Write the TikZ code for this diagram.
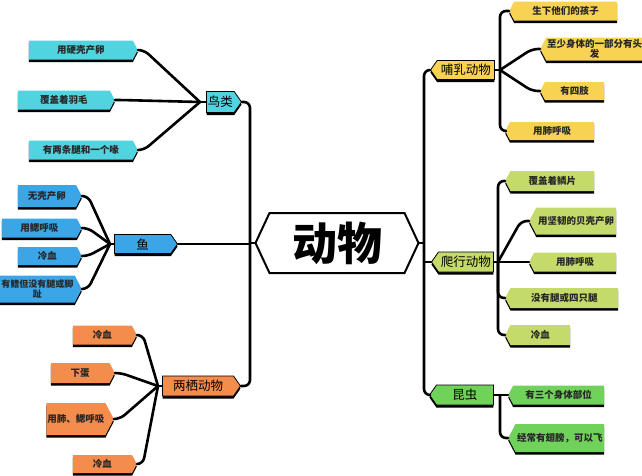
\documentclass[tikz,border=0pt]{standalone}
\usepackage{fontspec}
\newfontfamily\cjk{Noto Sans CJK SC}
\usetikzlibrary{shapes.symbols, shadows, positioning, calc}
\definecolor{birdc}{RGB}{82,211,224}
\definecolor{fishc}{RGB}{58,166,232}
\definecolor{amphc}{RGB}{244,140,76}
\definecolor{mammc}{RGB}{248,210,82}
\definecolor{reptc}{RGB}{196,218,106}
\definecolor{insc}{RGB}{112,210,90}

\tikzset{
    leaf/.style={signal, signal pointer angle=125, inner sep=1pt, text=black!85,
        font=\cjk\bfseries\fontsize{9.5}{10.5}\selectfont, align=center,
        drop shadow={shadow xshift=0pt, shadow yshift=-2.6pt, fill=black, opacity=1}},
    topic/.style={leaf, draw=black, line width=0.8pt, signal pointer angle=110,
        font=\cjk\fontsize{12.5}{14}\selectfont, text=black},
    toE/.style={signal to=east, anchor=east},
    toW/.style={signal to=west, anchor=west},
    boxsz/.style 2 args={minimum width=#1pt, minimum height=#2pt},
    link/.style={line width=2.6pt, rounded corners=6pt, line cap=round, line join=round},
}

\begin{document}
\begin{tikzpicture}[x=1pt, y=-1pt]
    \useasboundingbox (0,0) rectangle (642,475);

    % Centre node
    \node[signal, signal to=west and east, signal pointer angle=130, draw, line width=2pt,
        fill=white, minimum width=163pt, minimum height=60pt,
        font=\cjk\bfseries\fontsize{45}{50}\selectfont] (C) at (337,243) {动物};

    % Left topics
    \node[topic, toE, fill=birdc, boxsz={35}{21}] (B) at (242,102) {鸟类};
    \node[topic, toE, fill=fishc, boxsz={63}{19}] (F) at (178,244) {鱼};
    \node[topic, toE, fill=amphc, boxsz={78}{20}] (A) at (241,386) {两栖动物};

    % Right topics
    \node[topic, toW, fill=mammc, boxsz={64}{19}] (M) at (430,70) {哺乳动物};
    \node[topic, toW, fill=reptc, boxsz={62}{20}] (R) at (431,262) {爬行动物};
    \node[topic, toW, fill=insc, boxsz={64}{20}] (I) at (429,395) {昆虫};

    % Bird leaves
    \node[leaf, toE, fill=birdc, boxsz={109}{19}] (b1) at (138,50) {用硬壳产卵};
    \node[leaf, toE, fill=birdc, boxsz={97}{19}] (b2) at (115,100) {覆盖着羽毛};
    \node[leaf, toE, fill=birdc, boxsz={109}{19}] (b3) at (138,150) {有两条腿和一个喙};

    % Fish leaves
    \node[leaf, toE, fill=fishc, boxsz={64}{22}] (f1) at (82,196) {无壳产卵};
    \node[leaf, toE, fill=fishc, boxsz={80}{19}] (f2) at (82,228) {用鳃呼吸};
    \node[leaf, toE, fill=fishc, boxsz={64}{18}] (f3) at (82,256) {冷血};
    \node[leaf, toE, fill=fishc, boxsz={82}{27}, inner xsep=0pt,
        font=\cjk\bfseries\fontsize{9}{10.5}\selectfont] (f4) at (82,289) {有鳍但没有腿或脚\\趾};

    % Amphibian leaves
    \node[leaf, toE, fill=amphc, boxsz={64}{19}] (a1) at (137,335) {冷血};
    \node[leaf, toE, fill=amphc, boxsz={64}{20}] (a2) at (115,373) {下蛋};
    \node[leaf, toE, fill=amphc, boxsz={63}{32}] (a3) at (114,419) {用肺、鳃呼吸};
    \node[leaf, toE, fill=amphc, boxsz={64}{18}] (a4) at (137,464) {冷血};

    % Mammal leaves
    \node[leaf, toW, fill=mammc, boxsz={108}{19}] (m1) at (509,11) {生下他们的孩子};
    \node[leaf, toW, fill=mammc, boxsz={102}{23}] (m2) at (540,49) {至少身体的一部分有头\\发};
    \node[leaf, toW, fill=mammc, boxsz={64}{18}] (m3) at (540,91) {有四肢};
    \node[leaf, toW, fill=mammc, boxsz={89}{18}] (m4) at (505,131) {用肺呼吸};

    % Reptile leaves
    \node[leaf, toW, fill=reptc, boxsz={89}{20}] (r1) at (505,181) {覆盖着鳞片};
    \node[leaf, toW, fill=reptc, boxsz={87}{27}] (r2) at (529,221) {用坚韧的贝壳产卵};
    \node[leaf, toW, fill=reptc, boxsz={87}{19}] (r3) at (529,262) {用肺呼吸};
    \node[leaf, toW, fill=reptc, boxsz={113}{20}] (r4) at (505,298) {没有腿或四只腿};
    \node[leaf, toW, fill=reptc, boxsz={65}{20}] (r5) at (505,335) {冷血};

    % Insect leaves
    \node[leaf, toW, fill=insc, boxsz={96}{19}] (i1) at (508,395) {有三个身体部位};
    \node[leaf, toW, fill=insc, boxsz={96}{28}] (i2) at (508,438) {经常有翅膀，可以飞};

    % Junctions
    \coordinate (ltrunk) at (250,243);
    \coordinate (rtrunk) at (424,243);
    \coordinate (bj) at (200,102);
    \coordinate (fj) at (110,244);
    \coordinate (aj) at (158,386);
    \coordinate (mj) at (500,70);
    \coordinate (rj) at (498,262);
    \coordinate (ij) at (500,395);

    % Trunks
    \draw[link] (B.east) -| (ltrunk) |- (A.east);
    \draw[link] (F.east) -- (F.east -| ltrunk);
    \draw[link] (C.west) -- (ltrunk);
    \draw[link] (M.west) -| (rtrunk) |- (I.west);
    \draw[link] (R.west) -- (R.west -| rtrunk);
    \draw[link] (C.east) -- (rtrunk);

    % Left branches
    \draw[link] (bj) -- (B.west);
    \foreach \n in {b1,b2,b3} {
        \draw[link] (\n.east) -- ([xshift=6pt]\n.east) -- (bj);
    }
    \draw[link] (fj) -- (F.west);
    \foreach \n in {f1,f2,f3,f4} {
        \draw[link] (\n.east) -- ([xshift=6pt]\n.east) -- (fj);
    }
    \draw[link] (aj) -- (A.west);
    \foreach \n in {a1,a2,a3,a4} {
        \draw[link] (\n.east) -- ([xshift=6pt]\n.east) -- (aj);
    }

    % Right branches
    \draw[link] (M.east) -- (mj);
    \draw[link] (mj) |- (m1.west);
    \draw[link] (mj) |- (m4.west);
    \foreach \n in {m2,m3} {
        \draw[link] (mj) -- ([xshift=-8pt]\n.west) -- (\n.west);
    }
    \draw[link] (R.east) -- (rj);
    \foreach \n in {r1,r4,r5} {
        \draw[link] (rj) |- (\n.west);
    }
    \draw[link] (rj) -- ([xshift=-8pt]r2.west) -- (r2.west);
    \draw[link] (rj) -- (r3.west);
    \draw[link] (I.east) -- (i1.west);
    \draw[link] (ij) |- (i2.west);
\end{tikzpicture}
\end{document}
